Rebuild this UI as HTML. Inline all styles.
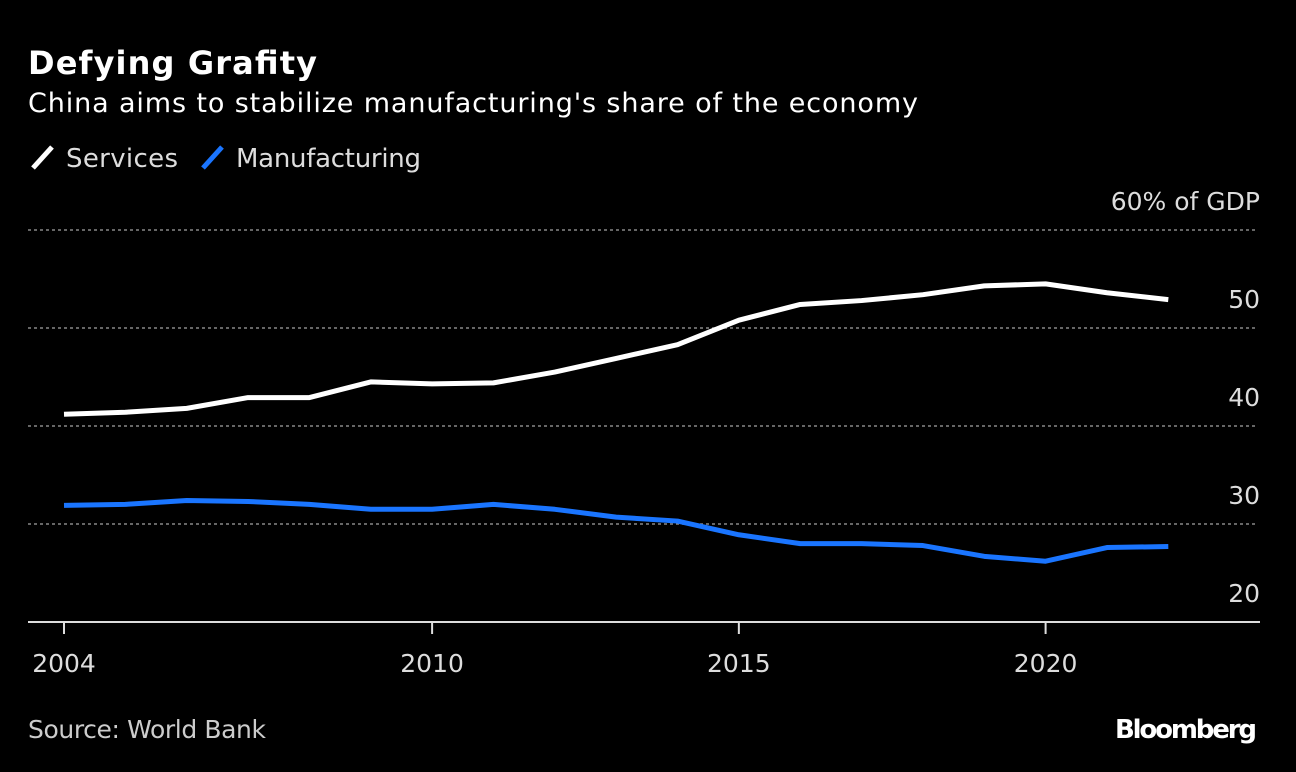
<!DOCTYPE html>
<html><head><meta charset="utf-8"><style>
html,body{margin:0;padding:0;background:#000;width:1296px;height:772px;overflow:hidden}
svg{display:block}
text{font-family:"DejaVu Sans","Liberation Sans",sans-serif}
</style></head><body>
<svg id="chart" width="1296" height="772">
<text x="28" y="74" fill="#fff" font-size="32" font-weight="bold" textLength="289">Defying Grafity</text>
<text x="28" y="112" fill="#fff" font-size="27" textLength="890">China aims to stabilize manufacturing's share of the economy</text>
<g>
<line x1="33" y1="168" x2="52" y2="147" stroke="#fff" stroke-width="5"/>
<text x="66" y="167" fill="#ddd" font-size="26" textLength="112">Services</text>
<line x1="203" y1="168" x2="222" y2="147" stroke="#1a75ff" stroke-width="5"/>
<text x="236" y="167" fill="#ddd" font-size="26" textLength="185">Manufacturing</text>
</g>
<g id="grid"></g>
<g id="lines"></g>
<text x="28" y="738" fill="#ccc" font-size="25" textLength="238">Source: World Bank</text>
<text x="1257" y="738" fill="#fff" font-size="26" font-weight="bold" text-anchor="end" textLength="142" font-family="Liberation Sans, sans-serif">Bloomberg</text>
</svg>
<script>
const years=[2004,2005,2006,2007,2008,2009,2010,2011,2012,2013,2014,2015,2016,2017,2018,2019,2020,2021,2022];
const services=[41.2,41.4,41.8,42.9,42.9,44.5,44.3,44.4,45.5,46.9,48.3,50.8,52.4,52.8,53.4,54.3,54.5,53.6,52.9];
const manufacturing=[31.9,32.0,32.4,32.3,32.0,31.5,31.5,32.0,31.5,30.7,30.3,28.9,28.0,28.0,27.8,26.7,26.2,27.6,27.7];
const yTicks=[20,30,40,50,60];
const yTickLabels=["20","30","40","50","60% of GDP"];
const xTicks=[2004,2010,2015,2020];
const NS="http://www.w3.org/2000/svg";
const x=v=>64+(v-2004)*61.35;
const y=v=>622-(v-20)*9.8;
const grid=document.getElementById('grid'),lines=document.getElementById('lines');
function mk(tag,attrs,parent){const e=document.createElementNS(NS,tag);for(const k in attrs)e.setAttribute(k,attrs[k]);parent.appendChild(e);return e;}
yTicks.forEach((t,i)=>{
  if(t>20){const l=mk('line',{x1:28,x2:1258,y1:y(t),y2:y(t),stroke:'#888','stroke-width':1.5,'stroke-dasharray':'3,3'},grid);
  
  }
  const tx=mk('text',{x:1260,y:y(t)-20,fill:'#ddd','font-size':25,'text-anchor':'end'},grid);
  tx.textContent=yTickLabels[i];
  
  
});
const ax=mk('line',{x1:28,x2:1260,y1:y(20),y2:y(20),stroke:'#ddd','stroke-width':2},grid);


xTicks.forEach(t=>{
  const tk=mk('line',{x1:x(t),x2:x(t),y1:y(20),y2:y(20)+12,stroke:'#ddd','stroke-width':2},grid);
  
  
  const tx=mk('text',{x:x(t),y:672,fill:'#ddd','font-size':25,'text-anchor':'middle'},grid);
  tx.textContent=t;
  
  
});
function series(vals,color,name){
  const p=mk('polyline',{points:vals.map((v,i)=>x(years[i])+','+y(v)).join(' '),fill:'none',stroke:color,'stroke-width':5,'stroke-linejoin':'round'},lines);
  
  
}
series(services,'#fff','services-line');
series(manufacturing,'#1a75ff','manufacturing-line');
</script>
</body></html>
